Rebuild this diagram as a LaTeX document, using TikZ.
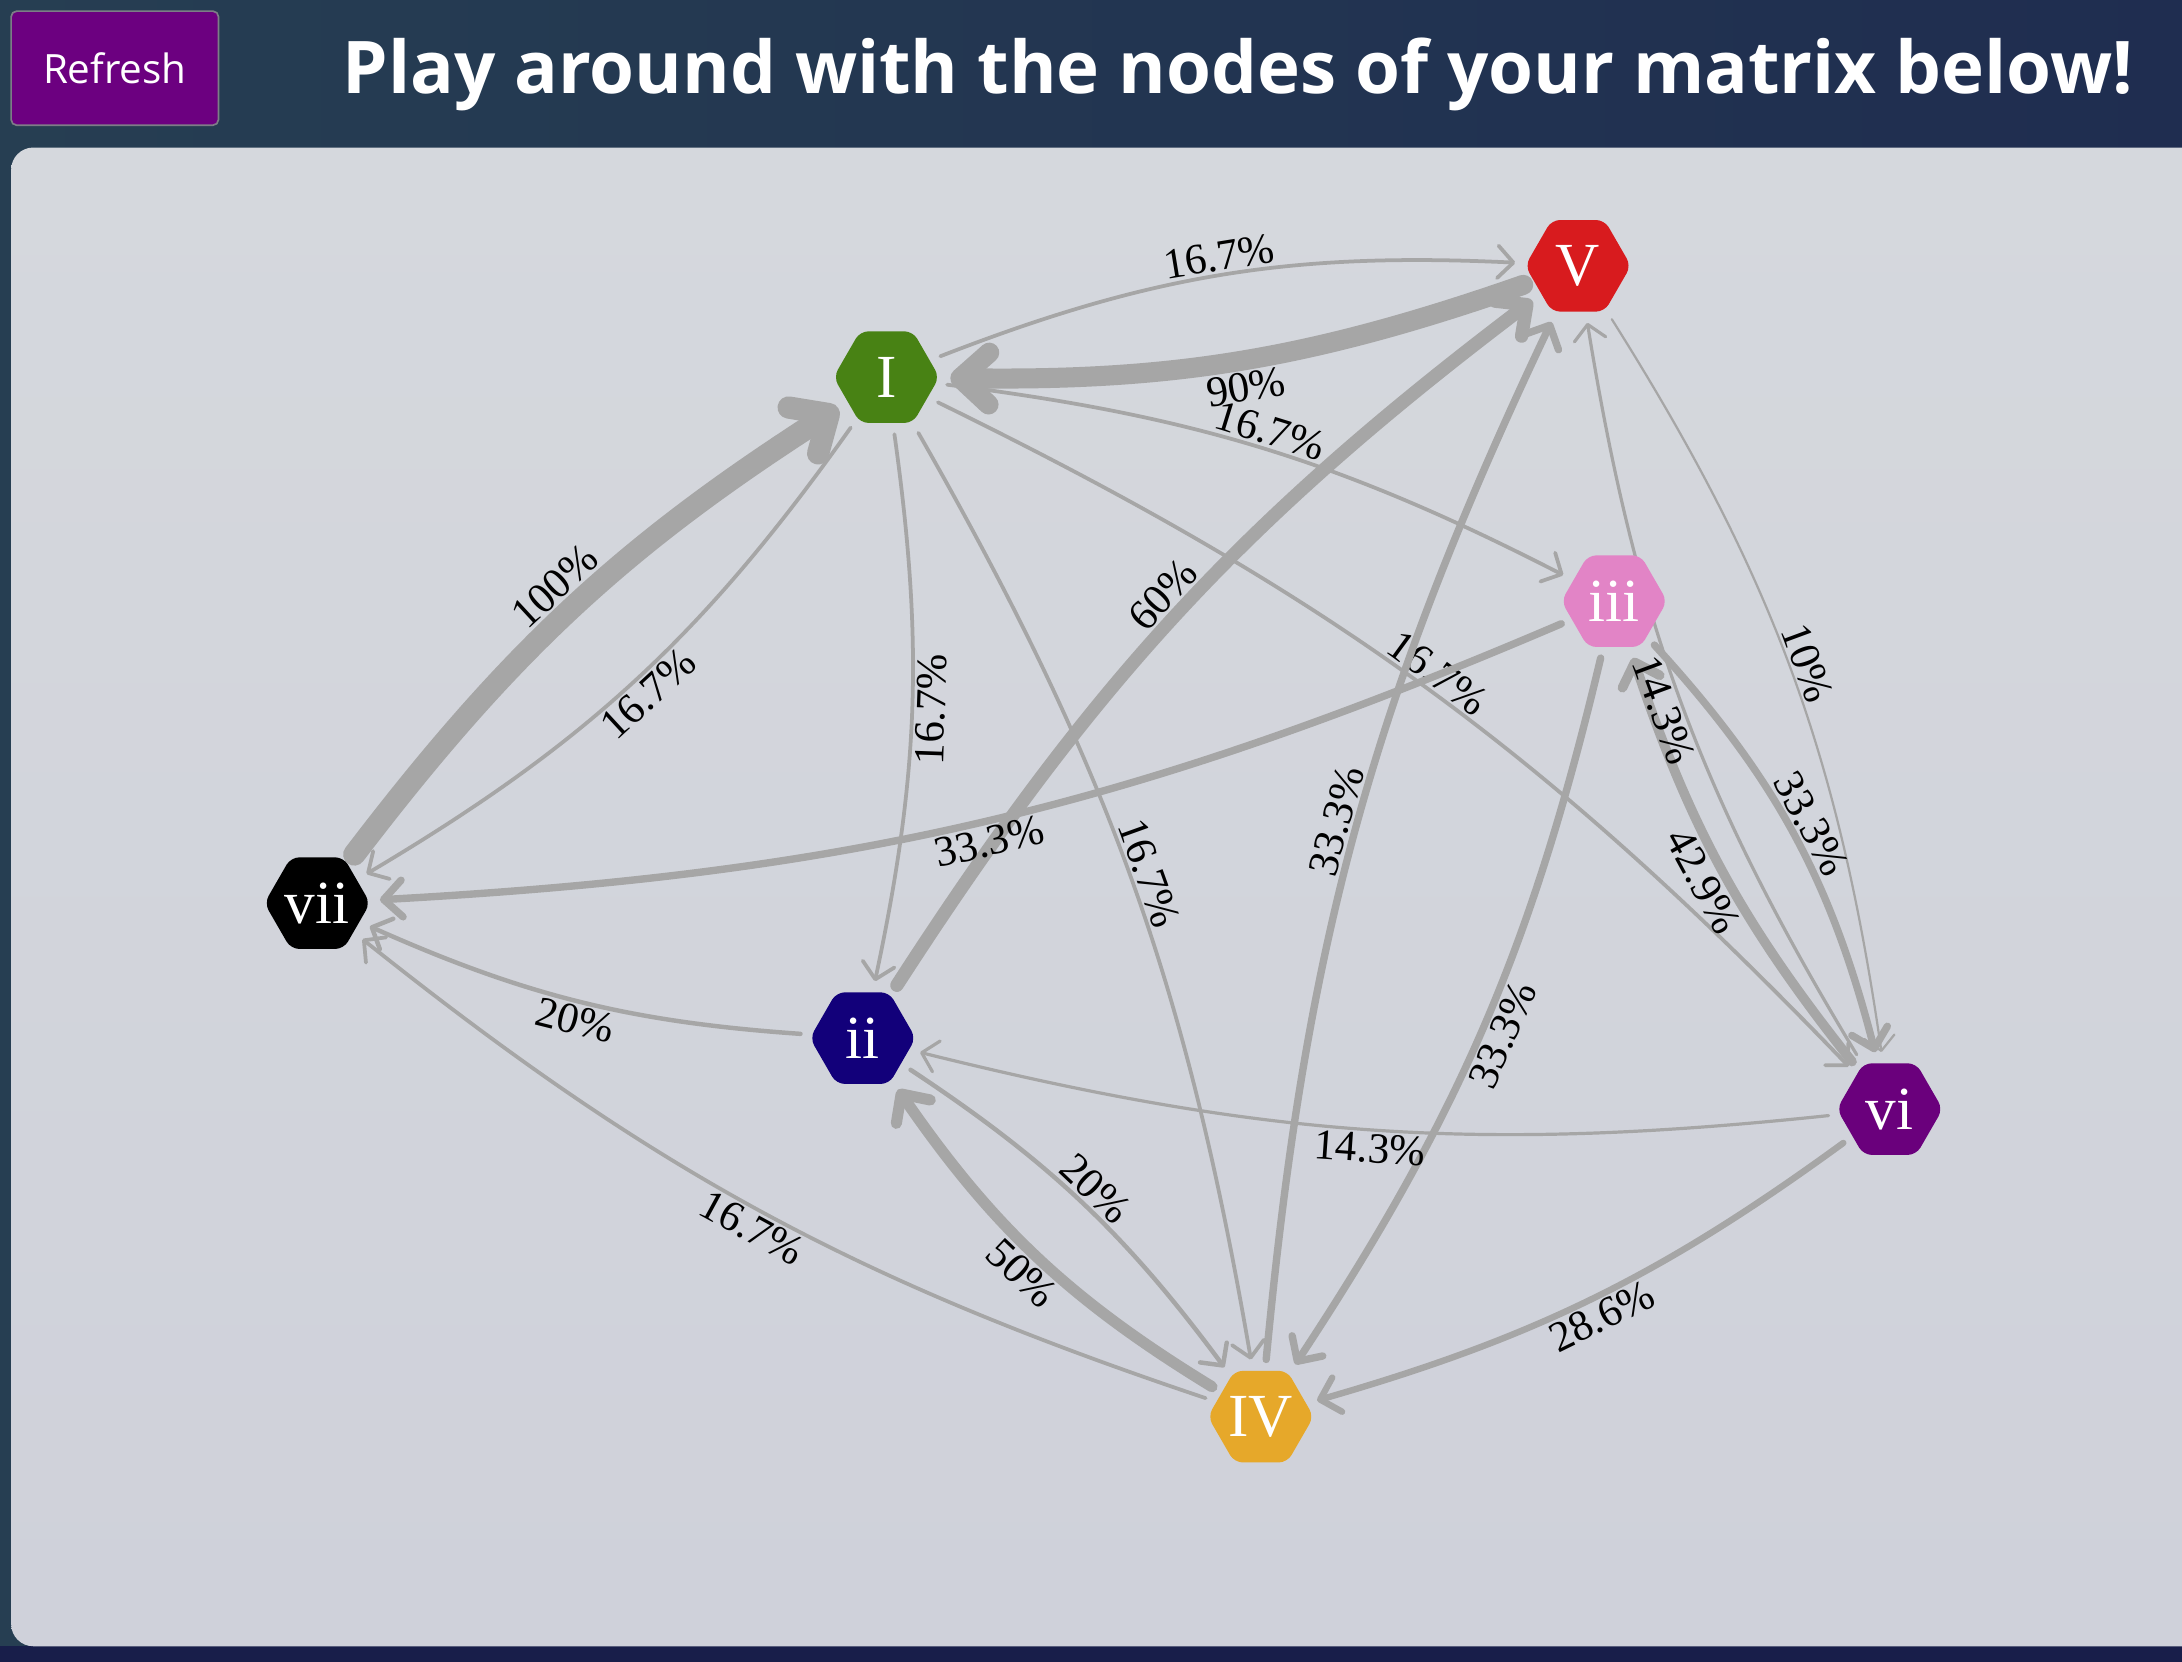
\documentclass[tikz,border=0pt]{standalone}
\usepackage{fontspec}
\usetikzlibrary{arrows.meta,shapes.geometric}
\newfontfamily\uifont{Open Sans}
\newfontfamily\serffont{Liberation Serif}
\definecolor{bgleft}{RGB}{38,62,82}
\definecolor{bgright}{RGB}{31,45,80}
\definecolor{bgbottom}{RGB}{24,30,74}
\definecolor{panelA}{RGB}{213,216,221}
\definecolor{panelB}{RGB}{207,209,218}
\definecolor{btnfill}{RGB}{108,0,128}
\definecolor{btnborder}{RGB}{125,125,135}
\definecolor{edgegrey}{RGB}{166,166,166}
\definecolor{colV}{RGB}{216,27,30}
\definecolor{colI}{RGB}{72,130,20}
\definecolor{coliii}{RGB}{226,132,198}
\definecolor{colii}{RGB}{18,0,122}
\definecolor{colvi}{RGB}{106,0,124}
\definecolor{colIV}{RGB}{230,168,42}
\pgfdeclarelayer{front}
\pgfsetlayers{main,front}
\begin{document}
\begin{tikzpicture}[
hexnode/.style={regular polygon,regular polygon sides=6,minimum size=76pt,inner sep=0pt,rounded corners=6pt,text=white,font=\serffont\fontsize{44}{44}\selectfont}
,tedge/.style={draw=edgegrey,line width=#1,line cap=round,-{Straight Barb[length=9pt 0.8,width=20pt 1.2,round]},shorten <=8pt,shorten >=8pt,bend left=10}
,plabel/.style={font=\serffont\fontsize{31}{31}\selectfont,text=black,inner sep=2pt,sloped}
]
\useasboundingbox (0pt,0pt) rectangle (1568pt,-1194pt);
% header and panel
\shade[left color=bgleft,right color=bgright] (0pt,0pt) rectangle (1568pt,-1194pt);
\fill[bgbottom] (0pt,-1183pt) rectangle (1568pt,-1194pt);
\shade[rounded corners=16pt,top color=panelA,bottom color=panelB] (8pt,-106pt) rectangle (1600pt,-1183pt);
\node[draw=btnborder,fill=btnfill,rounded corners=4pt,line width=1.2pt,minimum width=149pt,minimum height=82pt,text=white,font=\uifont\fontsize{29}{29}\selectfont] (refresh) at (82.5pt,-49pt) {Refresh};
\node[anchor=base west,inner sep=0pt,text=white,font=\uifont\bfseries\fontsize{52.2}{52.2}\selectfont] (title) at (246pt,-67pt) {Play around with the nodes of your matrix below!};
% chord nodes
\begin{pgfonlayer}{front}
\node[hexnode,fill=colV] (V) at (1134pt,-191pt) {V};
\node[hexnode,fill=colI] (I) at (637pt,-271pt) {I};
\node[hexnode,fill=coliii] (iii) at (1160pt,-432pt) {iii};
\node[hexnode,fill=black] (vii) at (228pt,-649pt) {vii};
\node[hexnode,fill=colii] (ii) at (620pt,-746pt) {ii};
\node[hexnode,fill=colvi] (vi) at (1358pt,-797pt) {vi};
\node[hexnode,fill=colIV] (IV) at (906pt,-1018pt) {IV};
\end{pgfonlayer}
% transitions
\draw[tedge=2.7pt,bend left=12] (I) to node[plabel,above]{16.7\%} (V);
\draw[tedge=14.4pt] (V) to node[plabel,below]{90\%} (I);
\draw[tedge=2.7pt] (I) to node[plabel,above]{16.7\%} (iii);
\draw[tedge=2.7pt] (I) to node[plabel,above]{16.7\%} (vi);
\draw[tedge=2.7pt] (I) to node[plabel,below]{16.7\%} (ii);
\draw[tedge=2.7pt] (I) to node[plabel,above]{16.7\%} (IV);
\draw[tedge=2.7pt,bend left=12] (I) to node[plabel,below]{16.7\%} (vii);
\draw[tedge=16pt] (vii) to node[plabel,above]{100\%} (I);
\draw[tedge=9.6pt] (ii) to node[plabel,above]{60\%} (V);
\draw[tedge=5.3pt] (iii) to node[plabel,below]{33.3\%} (vii);
\draw[tedge=5.3pt] (IV) to node[plabel,above]{33.3\%} (V);
\draw[tedge=5.3pt] (iii) to node[plabel,below]{33.3\%} (IV);
\draw[tedge=1.6pt,bend left=12] (V) to node[plabel,above]{10\%} (vi);
\draw[tedge=5.3pt,bend left=14] (iii) to node[plabel,above]{33.3\%} (vi);
\draw[tedge=6.9pt] (vi) to node[plabel,below]{42.9\%} (iii);
\draw[tedge=2.3pt,bend left=11] (vi) to node[plabel,below]{14.3\%} (V);
\draw[tedge=2.3pt] (vi) to node[plabel,below]{14.3\%} (ii);
\draw[tedge=4.6pt] (vi) to node[plabel,below]{28.6\%} (IV);
\draw[tedge=3.2pt] (ii) to node[plabel,below]{20\%} (vii);
\draw[tedge=2.7pt] (IV) to node[plabel,below]{16.7\%} (vii);
\draw[tedge=8pt,bend left=12] (IV) to node[plabel,below]{50\%} (ii);
\draw[tedge=3.2pt] (ii) to node[plabel,above]{20\%} (IV);
\end{tikzpicture}
\end{document}
